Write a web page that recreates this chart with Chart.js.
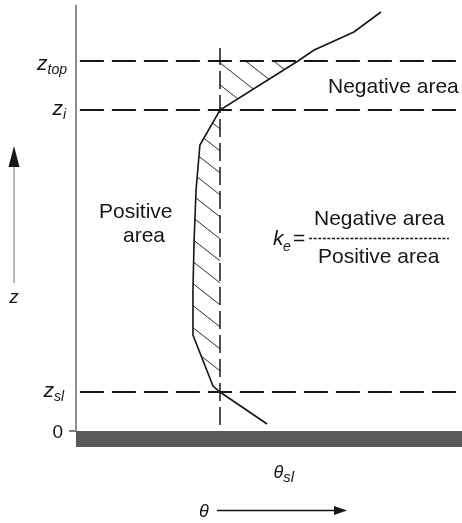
<!DOCTYPE html>
<html>
<head>
<meta charset="utf-8">
<script src="https://cdn.jsdelivr.net/npm/chart.js@4/dist/chart.umd.min.js"></script>
<style>
  html, body { margin: 0; padding: 0; background: #fff; }
  canvas { display: block; }
</style>
</head>
<body>
<canvas id="c" width="462" height="523"></canvas>
<script>
// Potential temperature profile theta(z), arbitrary units, listed bottom to top
const profileTheta = [49.5, 37.3, 35.5, 30.3, 30.3, 30.6, 31.1, 32.1, 37.3, 57.5, 61.7, 72.0, 79.0];
const profileZ     = [1.75, 9.75, 11.25, 24.0, 35.25, 47.75, 60.25, 71.5, 80.25, 92.5, 95.25, 99.75, 104.75];

// Reference heights: surface layer top, mixed-layer top, overshoot top
const levelNames = ['sl', 'i', 'top'];
const levelZ     = [9.75, 80.25, 92.5];

// Surface-layer potential temperature (vertical reference line)
const thetaSl = 37.3;
const thetaSlSpan = [1.5, 95.75];

// Axis extents
const thetaRange = [0, 100];
const zRange = [-4, 106.5];

const INK = '#161616';
const FONT = '"Liberation Sans", Arial, Helvetica, sans-serif';

const points = profileTheta.map((t, i) => ({ x: t, y: profileZ[i] }));
// part of the profile between two heights, ordered top-down for the y-indexed fill
const slice = (lo, hi) => points.filter(p => p.y >= lo && p.y <= hi).reverse();

// diagonal "\" hatching used for the positive and negative areas
function hatchPattern() {
  const W = 28, H = 22;
  const c = document.createElement('canvas');
  c.width = W; c.height = H;
  const g = c.getContext('2d');
  g.strokeStyle = '#2b2b2b';
  g.lineWidth = 1;
  for (const k of [-1, 0, 1]) {
    g.beginPath();
    g.moveTo(k * W - W, -H);
    g.lineTo(k * W + 2 * W, 2 * H);
    g.stroke();
  }
  return g.createPattern(c, 'repeat');
}
const hatch = hatchPattern();

const levelDatasets = levelZ.map((z, i) => ({
  label: 'z_' + levelNames[i],
  data: [{ x: 1.0, y: z }, { x: thetaRange[1], y: z }],
  borderColor: INK,
  borderWidth: 2,
  borderDash: [24, 8],
  fill: false,
  order: 3,
  clip: false
}));

const datasets = [
  {
    label: 'theta',
    data: points,
    borderColor: INK,
    borderWidth: 1.6,
    fill: false,
    order: 1,
    clip: false
  },
  {
    label: 'theta_sl',
    data: [{ x: thetaSl, y: thetaSlSpan[0] }, { x: thetaSl, y: thetaSlSpan[1] }],
    borderColor: INK,
    borderWidth: 1.5,
    borderDash: [18, 6],
    fill: false,
    order: 2,
    clip: false
  },
  ...levelDatasets,
  {
    label: 'negative area',
    indexAxis: 'y',
    data: slice(levelZ[1], levelZ[2]),
    borderWidth: 0,
    borderColor: 'rgba(0,0,0,0)',
    backgroundColor: hatch,
    fill: { value: thetaSl },
    order: 4
  },
  {
    label: 'positive area',
    indexAxis: 'y',
    data: slice(levelZ[0], levelZ[1]),
    borderWidth: 0,
    borderColor: 'rgba(0,0,0,0)',
    backgroundColor: hatch,
    fill: { value: thetaSl },
    order: 4
  },
  {
    label: 'ground',
    data: [{ x: thetaRange[0], y: 0 }, { x: thetaRange[1], y: 0 }],
    borderWidth: 0,
    borderColor: 'rgba(0,0,0,0)',
    backgroundColor: '#5a5a5a',
    fill: { value: zRange[0] },
    order: 5
  },
  {
    label: 'z axis',
    data: [{ x: 0, y: 0 }, { x: 0, y: zRange[1] }],
    borderColor: '#8e8e8e',
    borderWidth: 2,
    fill: false,
    order: 6,
    clip: false
  },
  {
    label: 'zero tick',
    data: [{ x: -1.8, y: 0 }, { x: 0, y: 0 }],
    borderColor: '#555',
    borderWidth: 1.5,
    fill: false,
    order: 6,
    clip: false
  }
];

// z with subscript, right-aligned at xr
function subLabel(ctx, main, sub, xr, base, mainSize, subSize, subDrop) {
  ctx.font = 'italic ' + mainSize + 'px ' + FONT;
  const wm = ctx.measureText(main).width;
  ctx.font = 'italic ' + subSize + 'px ' + FONT;
  const ws = ctx.measureText(sub).width;
  const x0 = xr - wm - ws;
  ctx.textAlign = 'left';
  ctx.font = 'italic ' + mainSize + 'px ' + FONT;
  ctx.fillText(main, x0, base);
  ctx.font = 'italic ' + subSize + 'px ' + FONT;
  ctx.fillText(sub, x0 + wm, base + subDrop);
  return x0;
}

const levelLabelPlace = { sl: { xr: 64, dy: 5 }, i: { xr: 66, dy: 5 }, top: { xr: 67, dy: 9 } };

const textPlugin = {
  id: 'diagramText',
  afterDraw(chart) {
    const { ctx } = chart;
    const xs = chart.scales.x, ys = chart.scales.y;
    ctx.save();
    ctx.fillStyle = INK;
    ctx.strokeStyle = INK;
    ctx.textBaseline = 'alphabetic';

    // level labels on the z axis
    levelNames.forEach((n, i) => {
      const py = ys.getPixelForValue(levelZ[i]);
      const pl = levelLabelPlace[n];
      subLabel(ctx, 'z', n, pl.xr, py + pl.dy, 21, 14, 4);
    });

    // zero label
    ctx.font = '19px ' + FONT;
    ctx.textAlign = 'right';
    ctx.fillText('0', 63, ys.getPixelForValue(0) + 7);

    // theta_sl label below the ground
    subLabel(ctx, '\u03B8', 'sl', 294, 478, 18, 15, 4);

    // area captions
    ctx.font = '21px ' + FONT;
    ctx.textAlign = 'left';
    ctx.fillText('Negative area', 328, 93);
    ctx.fillText('Positive', 99, 218);
    ctx.fillText('area', 123, 242);

    // k_e = Negative area / Positive area
    ctx.font = 'italic 21px ' + FONT;
    ctx.fillText('k', 273, 245);
    ctx.font = 'italic 14px ' + FONT;
    ctx.fillText('e', 283, 251);
    ctx.font = '21px ' + FONT;
    ctx.fillText('=', 293, 245);
    ctx.fillText('Negative area', 314, 225);
    ctx.fillText('Positive area', 318, 263);
    ctx.save();
    ctx.lineWidth = 1.3;
    ctx.setLineDash([3, 1.6]);
    ctx.beginPath();
    ctx.moveTo(309, 238.5);
    ctx.lineTo(449, 238.5);
    ctx.stroke();
    ctx.restore();

    // z direction arrow
    ctx.save();
    ctx.strokeStyle = '#8a8a8a';
    ctx.lineWidth = 1.2;
    ctx.beginPath();
    ctx.moveTo(14, 165);
    ctx.lineTo(14, 283);
    ctx.stroke();
    ctx.restore();
    ctx.beginPath();
    ctx.moveTo(14, 146);
    ctx.lineTo(19.5, 167);
    ctx.lineTo(8.5, 167);
    ctx.closePath();
    ctx.fill();
    ctx.font = 'italic 19px ' + FONT;
    ctx.textAlign = 'center';
    ctx.fillText('z', 14, 303);

    // theta direction arrow
    ctx.textAlign = 'left';
    ctx.font = 'italic 18px ' + FONT;
    ctx.fillText('\u03B8', 199, 517);
    ctx.lineWidth = 1.3;
    ctx.beginPath();
    ctx.moveTo(217, 510.5);
    ctx.lineTo(336, 510.5);
    ctx.stroke();
    ctx.beginPath();
    ctx.moveTo(347, 510.5);
    ctx.lineTo(334, 506);
    ctx.lineTo(334, 515);
    ctx.closePath();
    ctx.fill();

    ctx.restore();
  }
};

new Chart(document.getElementById('c'), {
  type: 'line',
  data: { datasets },
  options: {
    responsive: false,
    animation: false,
    devicePixelRatio: 1,
    layout: { padding: { left: 76, right: 0, top: 5, bottom: 76 } },
    elements: { point: { radius: 0, hoverRadius: 0 }, line: { tension: 0 } },
    scales: {
      x: { type: 'linear', min: thetaRange[0], max: thetaRange[1], display: false },
      y: { type: 'linear', min: zRange[0], max: zRange[1], display: false }
    },
    plugins: { legend: { display: false }, tooltip: { enabled: false } },
    events: []
  },
  plugins: [textPlugin]
});
</script>
</body>
</html>
